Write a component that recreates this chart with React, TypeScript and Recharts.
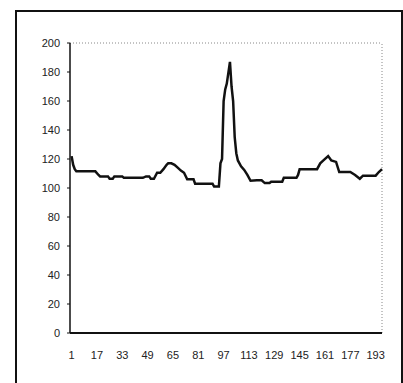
import React from 'react';
import { LineChart, Line, XAxis, YAxis, ReferenceLine } from 'recharts';

// sample number along the x axis and the reading at that sample
const sampleIdx = [
  1, 2, 3, 4, 16, 18, 19, 24, 25, 27, 28, 33, 34, 46, 48, 50, 51, 53, 55, 57,
  59, 61, 62, 64, 66, 68, 70, 72, 74, 78, 79, 90, 91, 94, 95, 96, 97, 98, 99, 101,
  102, 103, 104, 105, 106, 108, 110, 112, 114, 118, 121, 123, 126, 127, 134, 135, 143, 144, 145, 156,
  158, 160, 163, 165, 168, 170, 177, 180, 183, 185, 193, 195, 197,
];
const readings = [
  122, 116, 113, 111.5, 111.5, 109, 108, 108, 106.4, 106.4, 108, 108, 107, 107, 108, 108, 106.4, 106.4, 110.5, 110.5,
  113, 116, 117, 117, 116, 114, 112, 110.5, 106, 106, 103, 103, 101, 101, 117, 120, 160, 168, 172, 187,
  170, 160, 135, 124, 119, 115, 112.5, 109, 105, 105.3, 105.3, 103.4, 103.4, 104.3, 104.3, 107, 107, 109, 113, 113,
  117, 119, 122, 119, 118, 111, 111, 109, 106.4, 108.5, 108.5, 111, 113,
];
const xTicks = [1, 17, 33, 49, 65, 81, 97, 113, 129, 145, 161, 177, 193];
const yTicks = [0, 20, 40, 60, 80, 100, 120, 140, 160, 180, 200];

const data = sampleIdx.map((x, i) => ({ x, v: readings[i] }));

const font = { fontFamily: 'Liberation Sans, Arial, sans-serif', fontSize: 11, fill: '#222' };

export default function App() {
  return (
    <div style={{ position: 'absolute', left: 0, top: 0, width: 403, height: 383, overflow: 'hidden', background: '#fff' }}>
      <div
        style={{
          position: 'absolute',
          left: 15,
          top: 10,
          width: 384,
          height: 400,
          borderLeft: '2px solid #111',
          borderTop: '2px solid #111',
          borderRight: '2px solid #111',
        }}
      />
      <LineChart
        width={403}
        height={383}
        data={data}
        margin={{ top: 43, right: 21, bottom: 20, left: 20 }}
        style={{ position: 'absolute', left: 0, top: 0 }}
      >
        <XAxis
          dataKey="x"
          type="number"
          domain={[0, 197]}
          ticks={xTicks}
          interval={0}
          tickLine={false}
          tickSize={0}
          tickMargin={18}
          height={30}
          axisLine={{ stroke: '#111', strokeWidth: 2 }}
          tick={font}
        />
        <YAxis
          domain={[0, 200]}
          ticks={yTicks}
          interval={0}
          width={50}
          tickSize={3}
          tickMargin={7}
          tickLine={{ stroke: '#111' }}
          axisLine={{ stroke: '#111', strokeWidth: 1.5 }}
          tick={font}
        />
        <ReferenceLine y={200} stroke="#888" strokeDasharray="1 2" />
        <ReferenceLine x={197} stroke="#888" strokeDasharray="1 2" />
        <Line
          type="linear"
          dataKey="v"
          stroke="#111"
          strokeWidth={2.5}
          dot={false}
          isAnimationActive={false}
        />
      </LineChart>
    </div>
  );
}
